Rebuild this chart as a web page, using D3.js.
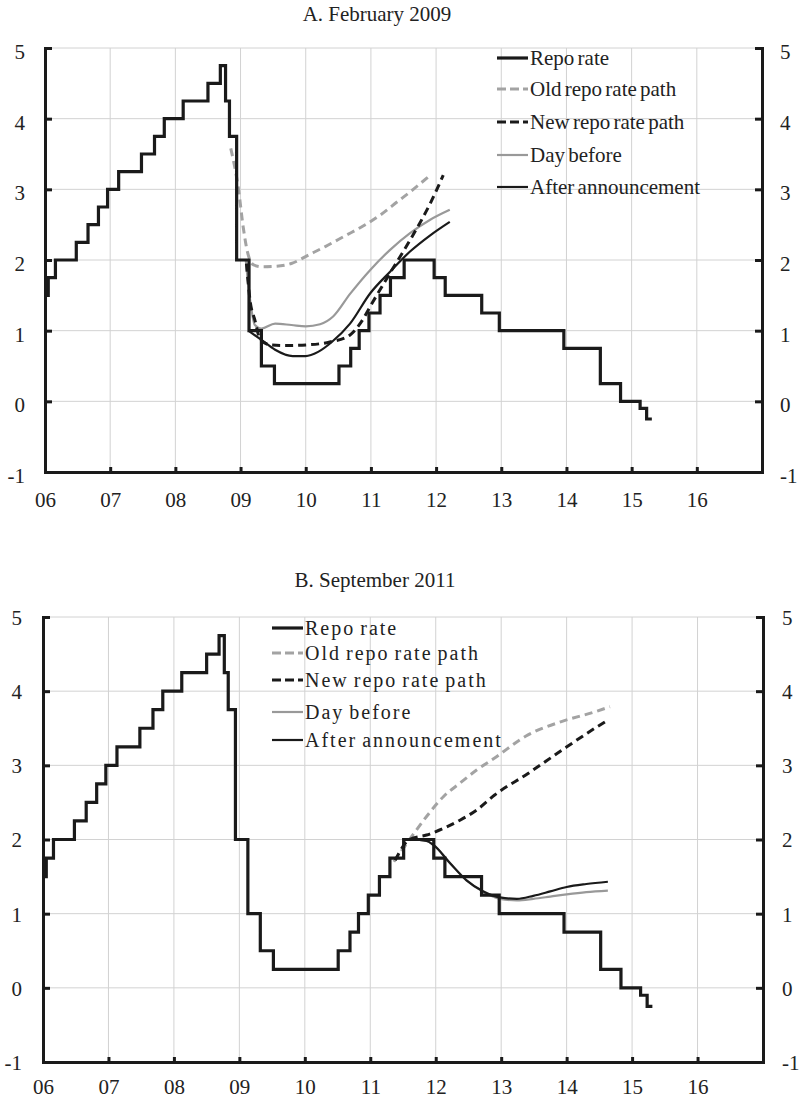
<!DOCTYPE html>
<html>
<head>
<meta charset="utf-8">
<script src="https://cdn.jsdelivr.net/npm/d3@7"></script>
<style>
  body { margin: 0; background: #fff; }
  svg { display: block; }
  text { font-family: "Liberation Serif", "Times New Roman", serif; fill: #222; }
</style>
</head>
<body>
<svg id="chart" width="802" height="1098"></svg>
<script>
// repo rate (decimal year, step after)
const repoYears = [2006.00, 2006.05, 2006.16, 2006.48, 2006.66, 2006.82, 2006.96, 2007.13, 2007.48, 2007.68,
  2007.83, 2008.12, 2008.50, 2008.69, 2008.77, 2008.83, 2008.94, 2009.13, 2009.32, 2009.52,
  2010.51, 2010.69, 2010.82, 2010.97, 2011.14, 2011.30, 2011.51, 2011.97, 2012.14, 2012.70,
  2012.97, 2013.96, 2014.52, 2014.83, 2015.13, 2015.23, 2015.31];
const repoValues = [1.50, 1.75, 2.00, 2.25, 2.50, 2.75, 3.00, 3.25, 3.50, 3.75,
  4.00, 4.25, 4.50, 4.75, 4.25, 3.75, 2.00, 1.00, 0.50, 0.25,
  0.50, 0.75, 1.00, 1.25, 1.50, 1.75, 2.00, 1.75, 1.50, 1.25,
  1.00, 0.75, 0.25, 0.00, -0.10, -0.25, -0.25];

// A. February 2009
const oldYearsA = [2008.85, 2008.97, 2009.04, 2009.11, 2009.20, 2009.32, 2009.53, 2009.78, 2010.04, 2010.30, 2010.60, 2010.88, 2011.15, 2011.40, 2011.65, 2011.91];
const oldValuesA = [3.58, 2.99, 2.47, 2.10, 1.93, 1.905, 1.91, 1.95, 2.07, 2.19, 2.34, 2.48, 2.64, 2.82, 3.00, 3.20];
const newYearsA = [2009.09, 2009.15, 2009.22, 2009.30, 2009.45, 2009.70, 2010.04, 2010.37, 2010.68, 2010.85, 2011.00, 2011.29, 2011.60, 2011.91, 2012.11];
const newValuesA = [1.95, 1.40, 1.15, 0.88, 0.80, 0.79, 0.80, 0.84, 0.94, 1.12, 1.36, 1.81, 2.28, 2.80, 3.20];
const dayYearsA = [2009.08, 2009.14, 2009.22, 2009.32, 2009.53, 2009.78, 2010.00, 2010.22, 2010.42, 2010.68, 2010.99, 2011.29, 2011.60, 2011.91, 2012.21];
const dayValuesA = [2.00, 1.48, 1.08, 1.03, 1.10, 1.08, 1.06, 1.09, 1.20, 1.52, 1.86, 2.14, 2.38, 2.57, 2.71];
const afterYearsA = [2009.12, 2009.32, 2009.53, 2009.80, 2010.00, 2010.19, 2010.40, 2010.68, 2010.99, 2011.29, 2011.60, 2011.91, 2012.21];
const afterValuesA = [1.00, 0.87, 0.73, 0.64, 0.64, 0.70, 0.84, 1.10, 1.53, 1.83, 2.12, 2.35, 2.54];

// B. September 2011
const oldYearsB = [2011.36, 2011.60, 2011.86, 2012.12, 2012.37, 2012.63, 2012.90, 2013.41, 2013.92, 2014.43, 2014.66];
const oldValuesB = [1.70, 2.00, 2.31, 2.58, 2.76, 2.94, 3.10, 3.41, 3.59, 3.72, 3.79];
const newYearsB = [2011.38, 2011.60, 2011.86, 2012.12, 2012.37, 2012.63, 2012.90, 2013.41, 2013.92, 2014.43, 2014.63];
const newValuesB = [1.72, 2.00, 2.06, 2.15, 2.26, 2.40, 2.60, 2.89, 3.20, 3.50, 3.61];
const dayYearsB = [2011.60, 2011.86, 2011.96, 2012.22, 2012.47, 2012.73, 2012.98, 2013.24, 2013.49, 2013.75, 2014.00, 2014.30, 2014.63];
const dayValuesB = [2.00, 1.98, 1.93, 1.68, 1.45, 1.29, 1.20, 1.18, 1.20, 1.23, 1.26, 1.29, 1.31];
const afterYearsB = [2011.60, 2011.86, 2011.96, 2012.22, 2012.47, 2012.73, 2012.98, 2013.24, 2013.49, 2013.75, 2014.00, 2014.30, 2014.63];
const afterValuesB = [2.00, 1.98, 1.93, 1.68, 1.45, 1.30, 1.22, 1.20, 1.24, 1.30, 1.36, 1.40, 1.43];

const yearTicks = [2006, 2007, 2008, 2009, 2010, 2011, 2012, 2013, 2014, 2015, 2016];
const valueTicks = [-1, 0, 1, 2, 3, 4, 5];
const legendLabels = ["Repo rate", "Old repo rate path", "New repo rate path", "Day before", "After announcement"];

// line styles, same order as legend
const styles = [
  { color: "#1a1a1a", width: 3.2, dash: null },
  { color: "#a3a3a3", width: 3, dash: "8,5" },
  { color: "#1a1a1a", width: 3, dash: "8,5" },
  { color: "#999999", width: 2.2, dash: null },
  { color: "#1a1a1a", width: 2.2, dash: null }
];

const svg = d3.select("#chart");
const zip = (xs, ys) => xs.map((x, i) => [x, ys[i]]);

function drawPanel(cfg) {
  const x = d3.scaleLinear().domain([2006, 2017]).range(cfg.xRange);
  const y = d3.scaleLinear().domain([-1, 5]).range(cfg.yRange);
  const g = svg.append("g");

  // grid
  g.selectAll(".vgrid").data(yearTicks.slice(1)).join("line")
    .attr("x1", d => x(d)).attr("x2", d => x(d))
    .attr("y1", y(-1)).attr("y2", y(5))
    .attr("stroke", "#d2d2d2").attr("stroke-width", 1);
  g.selectAll(".hgrid").data(valueTicks.slice(1)).join("line")
    .attr("x1", x(2006)).attr("x2", x(2017))
    .attr("y1", d => y(d)).attr("y2", d => y(d))
    .attr("stroke", "#d2d2d2").attr("stroke-width", 1);

  // title
  g.append("text").attr("x", cfg.titleX).attr("y", cfg.titleY)
    .attr("text-anchor", "middle").attr("font-size", 21).text(cfg.title);

  // series
  const curve = d3.line().x(d => x(d[0])).y(d => y(d[1]));
  const series = [
    { pts: zip(repoYears, repoValues), c: d3.curveStepAfter },
    { pts: zip(cfg.old[0], cfg.old[1]), c: d3.curveMonotoneX },
    { pts: zip(cfg.nw[0], cfg.nw[1]), c: d3.curveMonotoneX },
    { pts: zip(cfg.day[0], cfg.day[1]), c: d3.curveMonotoneX },
    { pts: zip(cfg.after[0], cfg.after[1]), c: d3.curveMonotoneX }
  ];
  [1, 3, 0, 2, 4].forEach(i => {
    g.append("path")
      .attr("d", curve.curve(series[i].c)(series[i].pts))
      .attr("fill", "none")
      .attr("stroke", styles[i].color)
      .attr("stroke-width", styles[i].width)
      .attr("stroke-dasharray", styles[i].dash)
      .attr("stroke-linejoin", "miter");
  });

  // axes
  const axisStyle = sel => {
    sel.select(".domain").attr("stroke", "#1a1a1a").attr("stroke-width", 3);
    sel.selectAll(".tick line").attr("stroke", "#1a1a1a").attr("stroke-width", 3);
    sel.selectAll(".tick text").attr("font-size", 21).attr("fill", "#222")
      .attr("font-family", '"Liberation Serif", "Times New Roman", serif');
  };
  const numFmt = d => String(d);
  g.append("g").attr("transform", `translate(${x(2006)},0)`)
    .call(d3.axisLeft(y).tickValues(valueTicks).tickFormat(numFmt).tickSize(-7).tickSizeOuter(0).tickPadding(cfg.leftPad))
    .call(axisStyle)
    .call(a => a.selectAll(".tick text").attr("dy", cfg.yDy));
  g.append("g").attr("transform", `translate(${x(2017)},0)`)
    .call(d3.axisRight(y).tickValues(valueTicks).tickFormat(numFmt).tickSize(-7).tickSizeOuter(0).tickPadding(cfg.rightPad))
    .call(axisStyle)
    .call(a => a.selectAll(".tick text").attr("dy", cfg.yDy));
  g.append("g").attr("transform", `translate(0,${y(-1)})`)
    .call(d3.axisBottom(x).tickValues(yearTicks).tickSize(-5).tickSizeOuter(0).tickPadding(cfg.bottomPad)
      .tickFormat(d => String(d).slice(2)))
    .call(axisStyle);
  g.selectAll(".domain").attr("stroke-linecap", "square");

  // legend
  const leg = g.append("g");
  legendLabels.forEach((label, i) => {
    const ly = cfg.legendY[i];
    leg.append("line")
      .attr("x1", cfg.legendX).attr("x2", cfg.legendX + 31)
      .attr("y1", ly).attr("y2", ly)
      .attr("stroke", styles[i].color)
      .attr("stroke-width", styles[i].width)
      .attr("stroke-dasharray", styles[i].dash ? "9,4" : null);
    leg.append("text")
      .attr("x", cfg.legendX + 33).attr("y", ly + 7)
      .attr("font-size", cfg.legendSize)
      .attr("letter-spacing", cfg.letterSpacing)
      .attr("word-spacing", -2)
      .text(label);
  });
}

drawPanel({
  title: "A. February 2009", titleX: 377, titleY: 21,
  xRange: [45, 762], yRange: [472, 48],
  leftPad: 20, rightPad: 18, bottomPad: 20, yDy: "0.5em",
  legendX: 497, legendY: [58, 89, 122, 155, 187], legendSize: 21, letterSpacing: 0,
  old: [oldYearsA, oldValuesA], nw: [newYearsA, newValuesA],
  day: [dayYearsA, dayValuesA], after: [afterYearsA, afterValuesA]
});

drawPanel({
  title: "B. September 2011", titleX: 375, titleY: 587,
  xRange: [43, 763], yRange: [1062, 617],
  leftPad: 21, rightPad: 19, bottomPad: 17, yDy: "0.35em",
  legendX: 272, legendY: [628, 653, 680, 712, 740], legendSize: 20, letterSpacing: 2,
  old: [oldYearsB, oldValuesB], nw: [newYearsB, newValuesB],
  day: [dayYearsB, dayValuesB], after: [afterYearsB, afterValuesB]
});
</script>
</body>
</html>
